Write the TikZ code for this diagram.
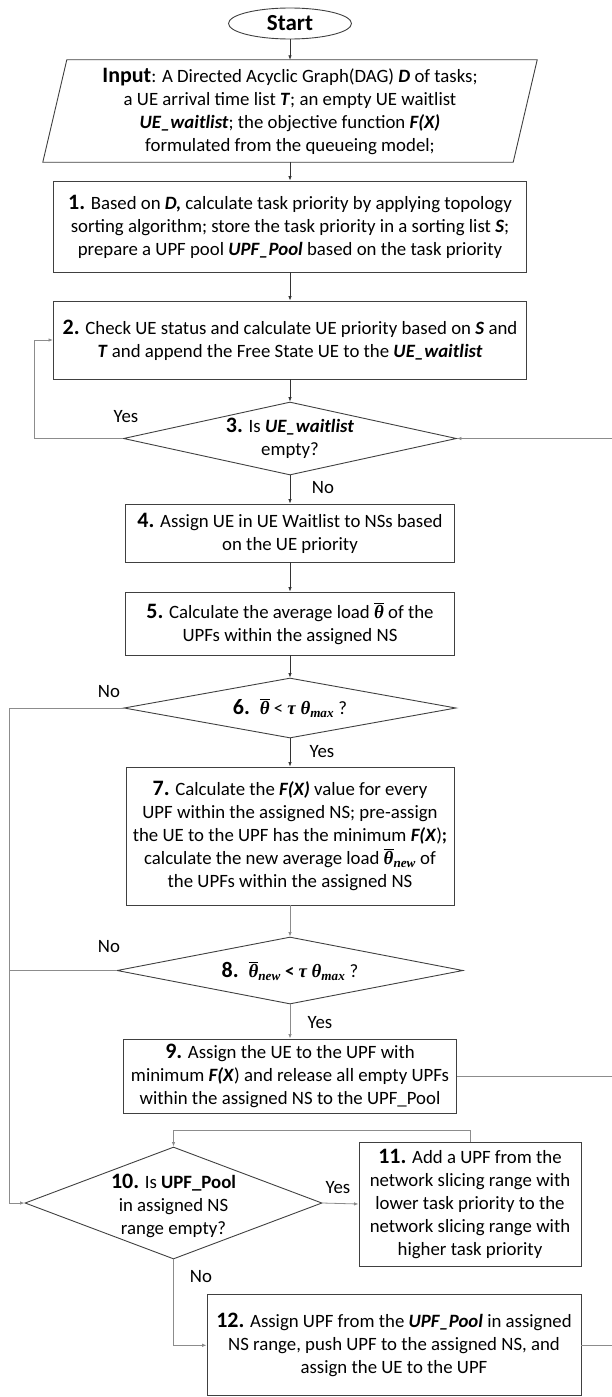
\documentclass[tikz,border=0pt]{standalone}
\usepackage{fontspec}
\setmainfont{Carlito}
\newfontfamily\grk{Liberation Serif}
\usepackage{amsmath}
\usetikzlibrary{shapes.geometric,arrows.meta}
\newcommand{\stepno}[1]{{\fontsize{22}{23}\selectfont\bfseries #1}}
\newcommand{\kw}[1]{\textbf{\textit{#1}}}
\newcommand{\gb}[1]{\text{\grk\bfseries\itshape #1}}
\newcommand{\thbar}{\overline{\gb{θ}}}
\begin{document}
\begin{tikzpicture}[x=1pt,y=-1pt,font=\fontsize{18.8}{23}\selectfont,
  box/.style={draw=black!75,line width=0.9pt,align=center,inner sep=0pt},
  dia/.style={draw=black!75,line width=0.9pt,diamond,inner sep=0pt},
  flow/.style={draw=black!80,line width=0.7pt,-{Latex[length=4.5pt,width=3.5pt]}},
  back/.style={draw=black!45,line width=0.8pt,-{Latex[length=4.5pt,width=3.5pt]}}]
\useasboundingbox (0,0) rectangle (612,1397);
\node[draw=black!75,line width=0.9pt,ellipse,minimum width=123pt,minimum height=28pt,font=\fontsize{23}{25}\selectfont\bfseries] (start) at (290,23.5) {Start};
\node[align=center,inner sep=0pt,minimum width=470pt,minimum height=102pt] (inp) at (290,111) {\stepno{Input}: A Directed Acyclic Graph(DAG) \kw{D} of tasks;\\
  a UE arrival time list \kw{T}; an empty UE waitlist\\ \kw{UE\_waitlist}; the objective function \kw{F(X)}\\ formulated from the queueing model;};
\draw[box] ([xshift=-12pt]inp.south west) -- ([xshift=12pt]inp.north west) -- ([xshift=12pt]inp.north east) -- ([xshift=-12pt]inp.south east) -- cycle;
\node[box,minimum width=473pt,minimum height=91pt] (s1) at (290,226.5) {\stepno{1.} Based on \kw{D,} calculate task priority by applying topology\\
  sorting algorithm; store the task priority in a sorting list \kw{S};\\ prepare a UPF pool \kw{UPF\_Pool} based on the task priority};
\node[box,minimum width=473pt,minimum height=78pt] (s2) at (290,340) {\stepno{2.} Check UE status and calculate UE priority based on \kw{S} and\\
  \kw{T} and append the Free State UE to the \kw{UE\_waitlist}};
\node[dia,minimum width=333pt,minimum height=73pt,label={[align=center]center:{\stepno{3.} Is \kw{UE\_waitlist}\\ empty?}}] (d3) at (290,438.5) {};
\node[box,minimum width=329pt,minimum height=58pt] (s4) at (290,533) {\stepno{4.} Assign UE in UE Waitlist to NSs based\\ on the UE priority};
\node[box,minimum width=329pt,minimum height=63pt] (s5) at (290,623.5) {\stepno{5.} Calculate the average load $\thbar$ of the\\ UPFs within the assigned NS};
\node[dia,minimum width=332pt,minimum height=60pt,label={center:{\stepno{6.}~ $\thbar$ < $\gb{τ θ}_{\gb{max}}$ ?}}] (d6) at (290,708) {};
\node[box,minimum width=328pt,minimum height=138pt] (s7) at (290,836) {\stepno{7.} Calculate the \kw{F(X)} value for every\\
  UPF within the assigned NS; pre-assign\\ the UE to the UPF has the minimum \kw{F(X})\textbf{;}\\
  calculate the new average load $\thbar_{\gb{new}}$ of\\ the UPFs within the assigned NS};
\node[dia,minimum width=346pt,minimum height=67pt,label={center:{\stepno{8.}~ $\thbar_{\gb{new}}$ \textbf{<} $\gb{τ θ}_{\gb{max}}$ ?}}] (d8) at (290,970.5) {};
\node[box,minimum width=333pt,minimum height=74pt] (s9) at (290,1076) {\stepno{9.} Assign the UE to the UPF with\\
  minimum \kw{F(X}) and release all empty UPFs\\ within the assigned NS to the UPF\_Pool};
\node[dia,minimum width=297pt,minimum height=112pt,label={[align=center,yshift=-3pt]center:{\stepno{10.} Is \textbf{UPF\_Pool}\\ in assigned NS\\ range empty?}}] (d10) at (173.5,1203) {};
\node[box,minimum width=222pt,minimum height=124pt] (s11) at (470,1204) {\stepno{11.} Add a UPF from the\\ network slicing range with\\
  lower task priority to the\\ network slicing range with\\ higher task priority};
\node[box,minimum width=374pt,minimum height=101pt] (s12) at (394,1345.3) {\stepno{12.} Assign UPF from the \kw{UPF\_Pool} in assigned\\
  NS range, push UPF to the assigned NS, and\\ assign the UE to the UPF};
\coordinate (l3) at (34,438.5);
\coordinate (l6) at (9,708);
\coordinate (t10) at (173.5,1130);
\coordinate (r3) at (616,438.5);
\draw[flow] (start) -- (inp);
\draw[flow] (inp) -- (s1);
\draw[flow] (s1) -- (s2);
\draw[flow] (s2) -- (d3);
\draw[flow] (d3) -- (s4);
\draw[flow] (s4) -- (s5);
\draw[flow] (s5) -- (d6);
\draw[flow] (d6) -- (s7);
\draw[back] (s7) -- (d8);
\draw[back] (d8) -- (s9);
\draw[back] (d3.west) -- (l3) |- (s2.west);
\draw[back] (d6.west) -- (l6) |- (d10.west);
\draw[back,-] (d8.west) -- (d8.west -| l6);
\draw[back] (d10.east) -- (s11.west);
\draw[back] (s11.north) |- (t10) -- (d10.north);
\draw[back] (d10.south) |- (s12.west);
\draw[back] (s9.east) -| (r3) -- (d3.east);
\draw[back,-] (s12.east) -| (r3);
\node (y3) at (126,417) {Yes};
\node (n3) at (323,488) {No};
\node (n6) at (109,692) {No};
\node (y6) at (322,752) {Yes};
\node (n8) at (109,947) {No};
\node (y8) at (320,1023) {Yes};
\node (y10) at (338,1188) {Yes};
\node (n10) at (201,1277) {No};
\end{tikzpicture}
\end{document}
